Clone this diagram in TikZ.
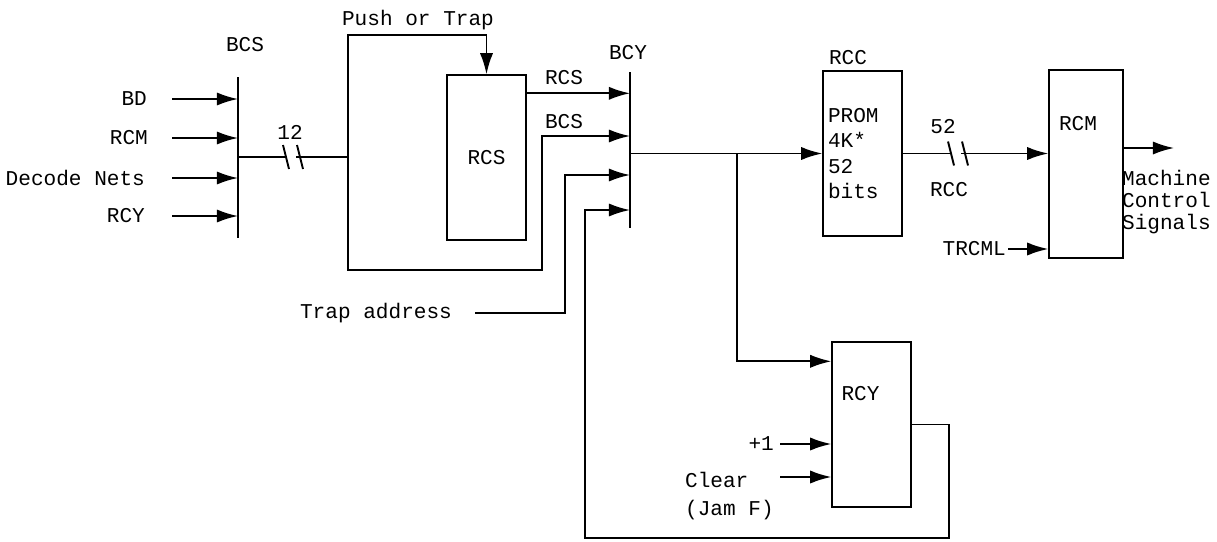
\documentclass[tikz,border=0pt]{standalone}
\usepackage{fontspec}
\setmonofont{Liberation Mono}
\usetikzlibrary{positioning, calc, arrows.meta}

\tikzset{
  txt/.style={font=\ttfamily\fontsize{12}{14.5}\selectfont, inner sep=1pt},
  blk/.style={txt, draw, line width=0.8pt, minimum width=1.58cm, minimum height=3.3cm, inner sep=0pt},
  sig/.style={line width=1.1pt},
  arr/.style={sig, -{Latex[length=12pt,width=7.5pt]}},
  busbar/.style={line width=1.5pt},
  pics/slashes/.style={code={
    \fill[white] (-6,-3) rectangle (3,3);
    \draw[sig] (-10,-12) -- (-4,12);
    \draw[sig] (4,-12) -- (10,12);
  }},
}

\begin{document}
\begin{tikzpicture}[x=0.02cm, y=-0.02cm]
  \useasboundingbox (0,0) rectangle (1217,541);

  % Bus bars BCS and BCY
  \coordinate (bcsT) at (238,77);
  \coordinate (bcsB) at (238,238);
  \draw[busbar] (bcsT) -- (bcsB);
  \node[txt] (bcsLbl) at (245,45) {BCS};

  \coordinate (bcyT) at (630,72);
  \coordinate (bcyB) at (630,228);
  \draw[busbar] (bcyT) -- (bcyB);
  \node[txt] (bcyLbl) at (628,53) {BCY};

  % Inputs to BCS
  \node[txt, anchor=east] (inBD) at (149,99) {BD};
  \node[txt, anchor=east] (inRCM) at (150,138) {RCM};
  \node[txt, anchor=east] (inDec) at (147,178) {Decode Nets};
  \node[txt, anchor=east] (inRCY) at (147,216) {RCY};
  \coordinate (inX) at (172,0);
  \foreach \n in {inBD, inRCM, inDec, inRCY}
    \draw[arr] (\n.east -| inX) -- (\n.east -| bcsT);

  % Stack register RCS
  \node[blk] (RCS) at (486.5,157.5) {RCS};
  \node[txt] (pushLbl) at (418,20) {Push or Trap};

  % 12 bit bus from BCS into the loop
  \coordinate (loopL) at (348,157);
  \coordinate (loopTop) at (348,35);
  \coordinate (loopBot) at (348,270);
  \draw[sig] (loopL -| bcsT) -- (loopL);
  \pic at (293,157) {slashes};
  \node[txt] (n12) at (290,132) {12};
  \draw[arr] (loopL) -- (loopTop) -| (RCS.north);

  % BCS path to BCY
  \coordinate (bcsIn) at (542,136);
  \draw[arr] (loopL) -- (loopBot) -| (bcsIn) -- (bcsIn -| bcyT);
  \node[txt] (bcsLbl2) at (564,122) {BCS};

  % RCS output to BCY
  \coordinate (rcsOut) at ([yshift=-0.38cm]RCS.north east);
  \draw[arr] (rcsOut) -- (rcsOut -| bcyT);
  \node[txt] (rcsLbl) at (564,78) {RCS};

  % Trap address to BCY
  \node[txt, anchor=east] (trap) at (454,313) {Trap address};
  \coordinate (trapX) at (565,175);
  \draw[arr] ([xshift=0.42cm]trap.east) -| (trapX) -- (trapX -| bcyT);

  % PROM RCC
  \node[blk, align=left, text width=1.38cm, inner xsep=0.1cm] (RCC) at (862.5,153.5)
    {PROM\\4K*\\52\\bits};
  \node[txt] (rccLbl) at (848,58) {RCC};
  \draw[arr] (RCC.west -| bcyT) -- (RCC.west);

  % Register RCM
  \node[blk, minimum width=1.48cm, minimum height=3.76cm] (RCM) at (1086,164) {};
  \node[txt, below=0.9cm of RCM.north, xshift=-0.16cm] (rcmTxt) {RCM};
  \draw[arr] (RCC.east) -- (RCC.east -| RCM.west);
  \pic at (958,153.5) {slashes};
  \node[txt] (n52) at (943,127) {52};
  \node[txt] (rccLbl2) at (949,190) {RCC};

  \node[txt, anchor=east] (trcml) at (1008,249) {TRCML};
  \draw[arr] (trcml.east) -- (trcml.east -| RCM.west);

  % Machine control signals out
  \coordinate (mcsOut) at (1174,148);
  \draw[arr] (mcsOut -| RCM.east) -- (mcsOut);
  \node[txt, anchor=north west, align=left, font=\ttfamily\fontsize{12}{12.5}\selectfont]
    (mcs) at (1120,168) {Machine\\Control\\Signals};

  % Counter RCY
  \node[blk] (RCY) at (871.5,424.5) {};
  \node[txt, below=0.86cm of RCY.north, xshift=-0.22cm] (rcyTxt) {RCY};
  \coordinate (brX) at (737,153);
  \draw[arr] (brX) |- ([yshift=-0.4cm]RCY.north west);

  \node[txt, anchor=east] (plus) at (776,444) {+1};
  \draw[arr] ([xshift=0.08cm]plus.east) -- (plus.east -| RCY.west);
  \node[txt, anchor=west, align=left, font=\ttfamily\fontsize{12}{16.4}\selectfont]
    (clr) at (683,496) {Clear\\(Jam F)};
  \coordinate (clrIn) at (780,477);
  \draw[arr] (clrIn) -- (clrIn -| RCY.west);

  % RCY feedback to BCY
  \coordinate (fbR) at (949,538);
  \coordinate (fbX) at (585,210);
  \draw[arr] (RCY.east) -| (fbR) -| (fbX) -- (fbX -| bcyT);

\end{tikzpicture}
\end{document}
